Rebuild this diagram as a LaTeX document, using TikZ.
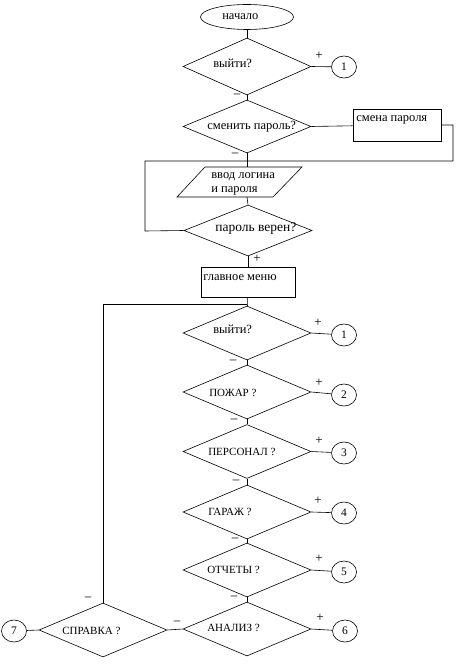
\documentclass[tikz,border=0pt]{standalone}
\usepackage{fontspec}
\setmainfont{Liberation Serif}
\usetikzlibrary{shapes.geometric}
\begin{document}
\begin{tikzpicture}[x=1pt,y=-1pt,line width=0.6pt,
  dec/.style={draw,diamond,minimum width=128pt,minimum height=54pt,inner sep=0pt},
  conn/.style={draw,ellipse,minimum width=25pt,minimum height=22pt,inner sep=0pt,font=\fontsize{11.5}{12}\selectfont},
  txt/.style={anchor=west,inner sep=0pt,font=\fontsize{12.5}{14}\selectfont},
  captxt/.style={anchor=west,inner sep=0pt,font=\fontsize{11}{12}\selectfont},
  sgn/.style={inner sep=0pt,font=\fontsize{13}{14}\selectfont},
  proc/.style={draw,rectangle,inner sep=0pt}]
\useasboundingbox (0,0) rectangle (461,668);
% start
\node[draw,ellipse,minimum width=93pt,minimum height=25pt,inner sep=0pt] (start) at (247,17) {};
\node[txt] (tstart) at (222,17) {начало};
% decision 1
\node[dec,minimum height=57pt] (d1) at (247,66.5) {};
\node[txt] (td1) at (213,63) {выйти?};
\node[conn] (c1a) at (344,67) {1};
\node[sgn] (p1) at (319,56) {+};
\node[sgn] (m1) at (237,96) {--};
% decision 2
\node[dec,minimum height=53pt] (d2) at (247,126.5) {};
\node[txt] (td2) at (207,127) {сменить пароль?};
\node[proc,minimum width=88pt,minimum height=32pt] (pw) at (397,125) {};
\node[txt] (tpw) at (356,120) {смена пароля};
\node[sgn] (m2) at (235,155) {--};
% input parallelogram
\draw (205,167) -- (302,167) -- (273,197) -- (177,197) -- cycle;
\coordinate (iotop) at (247,167);
\coordinate (iobot) at (247,197);
\node[txt] (tio1) at (211,177) {ввод логина};
\node[txt] (tio2) at (211,191) {и пароля};
% decision 3
\node[dec,minimum height=51pt] (d3) at (248,230.5) {};
\node[txt,font=\fontsize{13.5}{15}\selectfont] (td3) at (215,228) {пароль верен?};
\node[sgn] (p3) at (257,259) {+};
% main menu
\node[proc,minimum width=94pt,minimum height=30pt] (menu) at (248,282) {};
\node[txt] (tmenu) at (203,278) {главное меню};
% menu decisions
\node[dec] (d4) at (247,333) {};
\node[txt] (td4) at (213,329) {выйти?};
\node[dec] (d5) at (247,392) {};
\node[captxt] (td5) at (209,393) {ПОЖАР ?};
\node[dec] (d6) at (247,451.5) {};
\node[captxt] (td6) at (208,452) {ПЕРСОНАЛ ?};
\node[dec] (d7) at (247,512) {};
\node[captxt] (td7) at (208,512) {ГАРАЖ ?};
\node[dec] (d8) at (247,570) {};
\node[captxt] (td8) at (207,570) {ОТЧЕТЫ ?};
\node[dec] (d9) at (247,629) {};
\node[captxt] (td9) at (207,628) {АНАЛИЗ ?};
\node[dec] (spr) at (103,630) {};
\node[captxt] (tspr) at (62,631) {СПРАВКА ?};
% connectors (circles)
\node[conn] (c1b) at (344,335) {1};
\node[conn] (c2) at (344,395) {2};
\node[conn] (c3) at (344,453) {3};
\node[conn] (c4) at (344,513) {4};
\node[conn] (c5) at (344,572) {5};
\node[conn] (c6) at (345,631) {6};
\node[conn] (c7) at (14,631) {7};
% signs
\node[sgn] (p4) at (318,323) {+};
\node[sgn] (p5) at (319,383) {+};
\node[sgn] (p6) at (319,441) {+};
\node[sgn] (p7) at (318,501) {+};
\node[sgn] (p8) at (319,559) {+};
\node[sgn] (p9) at (320,618) {+};
\node[sgn] (m4) at (233,362) {--};
\node[sgn] (m5) at (234,421) {--};
\node[sgn] (m6) at (236,482) {--};
\node[sgn] (m7) at (235,540) {--};
\node[sgn] (m8) at (234,598) {--};
\node[sgn] (m9) at (177,623) {--};
\node[sgn] (m10) at (88,599) {--};
% lines
\draw (start) -- (d1);
\draw (d1.east) -- (c1a);
\draw (d1) -- (d2);
\draw (d2.east) -- (pw);
\draw (pw.east) -- (453,125) -- (453,161) -- (145,161) -- (145,231) -- (d3.west);
\draw (d2.south) -- (iotop);
\draw (iobot) -- (d3.north);
\draw (d3) -- (menu);
\draw (menu) -- (d4);
\coordinate (lp) at (247,304);
\draw (lp) -- (103,304) -- (spr.north);
\draw (d4) -- (d5);
\draw (d5) -- (d6);
\draw (d6) -- (d7);
\draw (d7) -- (d8);
\draw (d8) -- (d9);
\draw (d4.east) -- (c1b);
\draw (d5.east) -- (c2);
\draw (d6.east) -- (c3);
\draw (d7.east) -- (c4);
\draw (d8.east) -- (c5);
\draw (d9.east) -- (c6);
\draw (spr.east) -- (d9.west);
\draw (c7) -- (spr.west);
\end{tikzpicture}
\end{document}
